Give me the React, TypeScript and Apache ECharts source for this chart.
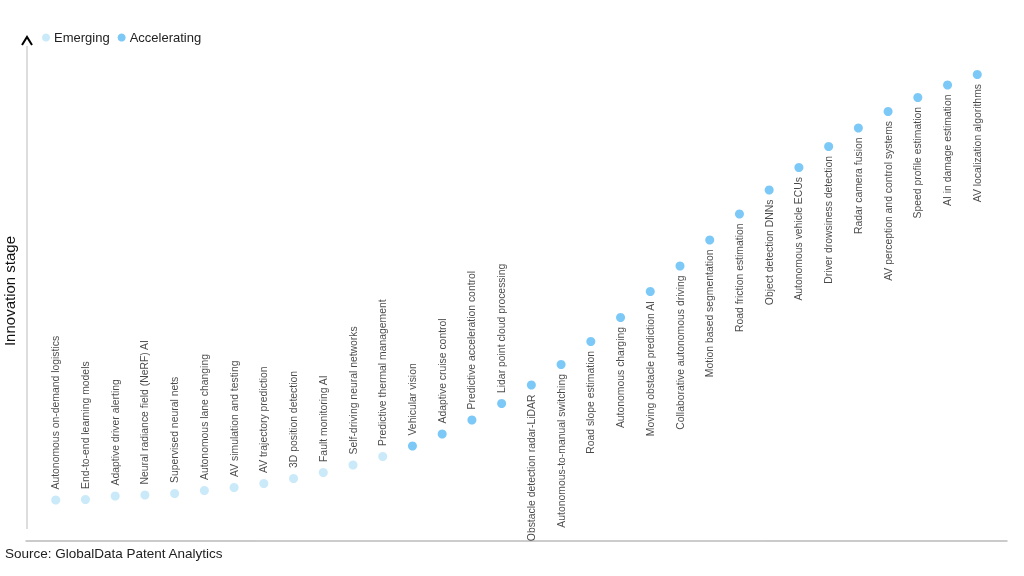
import React, { useEffect, useRef } from "react";
import * as echarts from "echarts";

const emergingNames = [
  "Autonomous on-demand logistics",
  "End-to-end learning models",
  "Adaptive driver alerting",
  "Neural radiance field (NeRF) AI",
  "Supervised neural nets",
  "Autonomous lane changing",
  "AV simulation and testing",
  "AV trajectory prediction",
  "3D position detection",
  "Fault monitoring AI",
  "Self-driving neural networks",
  "Predictive thermal management",
];
const emergingValues = [8.2, 8.3, 9.0, 9.2, 9.5, 10.1, 10.7, 11.5, 12.5, 13.7, 15.2, 16.9];

const acceleratingNames = [
  "Vehicular vision",
  "Adaptive cruise control",
  "Predictive acceleration control",
  "Lidar point cloud processing",
  "Obstacle detection radar-LiDAR",
  "Autonomous-to-manual switching",
  "Road slope estimation",
  "Autonomous charging",
  "Moving obstacle prediction AI",
  "Collaborative autonomous driving",
  "Motion based segmentation",
  "Road friction estimation",
  "Object detection DNNs",
  "Autonomous vehicle ECUs",
  "Driver drowsiness detection",
  "Radar camera fusion",
  "AV perception and control systems",
  "Speed profile estimation",
  "AI in damage estimation",
  "AV localization algorithms",
];
const acceleratingValues = [
  19.0, 21.4, 24.2, 27.5, 31.2, 35.3, 39.9, 44.7, 49.9, 55.0, 60.2, 65.4, 70.2, 74.7, 78.9, 82.6,
  85.9, 88.7, 91.2, 93.3,
];
// labels above the point for the first N items overall, below for the rest
const labelsAboveCount = 16;

const seriesNames = ["Emerging", "Accelerating"];
const seriesColors = ["#bde3f8", "#5bbcf5"];
const sourceText = "Source: GlobalData Patent Analytics";
const yAxisTitle = "Innovation stage";

const FONT = "'Liberation Sans', Arial, sans-serif";

function buildData(names: string[], values: number[], offset: number) {
  return names.map((n, i) => {
    const idx = offset + i;
    const above = idx < labelsAboveCount;
    return {
      value: [idx, values[i]],
      name: n,
      label: above
        ? { position: "top", align: "left", distance: 6 }
        : { position: "bottom", align: "right", distance: 5 },
    };
  });
}

export default function App() {
  const ref = useRef<HTMLDivElement>(null);
  useEffect(() => {
    if (!ref.current) return;
    const chart = echarts.init(ref.current, null, { renderer: "svg" });
    const labelBase = {
      show: true,
      rotate: 90,
      verticalAlign: "middle",
      formatter: (p: any) => p.name,
      fontSize: 10.4,
      color: "#1a1a1a",
      fontFamily: FONT,
    };
    chart.setOption({
      animation: false,
      textStyle: { fontFamily: FONT },
      legend: {
        left: 37,
        top: 26,
        icon: "circle",
        itemWidth: 8,
        itemHeight: 8,
        itemGap: 8,
        textStyle: { fontSize: 13, color: "#222", fontFamily: FONT, padding: [0, 0, 0, -1] },
        data: seriesNames,
      },
      grid: { left: 26, right: 17, top: 41, bottom: 35, outerBoundsMode: "none", containLabel: false },
      xAxis: {
        type: "value",
        min: -1,
        max: 32,
        axisLine: { show: true, lineStyle: { color: "#bbbbbb", width: 1.5 } },
        axisTick: { show: false },
        axisLabel: { show: false },
        splitLine: { show: false },
      },
      yAxis: {
        type: "value",
        min: 0,
        max: 100,
        name: yAxisTitle,
        nameLocation: "middle",
        nameGap: 9,
        nameTextStyle: { fontSize: 15, color: "#111", fontFamily: FONT },
        axisLine: { show: false },
        axisTick: { show: false },
        axisLabel: { show: false },
        splitLine: { show: false },
      },
      graphic: [
        {
          type: "line",
          shape: { x1: 27, y1: 46, x2: 27, y2: 529 },
          style: { stroke: "#bbbbbb", lineWidth: 1 },
        },
        {
          type: "polyline",
          shape: { points: [[22, 45], [27, 37], [32, 45]] },
          style: { stroke: "#000", lineWidth: 2, fill: null },
        },
        {
          type: "text",
          left: 5,
          top: 546,
          style: { text: sourceText, fontSize: 13.5, fill: "#222", fontFamily: FONT },
        },
      ],
      series: [
        {
          name: seriesNames[0],
          type: "scatter",
          symbolSize: 9,
          itemStyle: { color: seriesColors[0] },
          label: labelBase,
          data: buildData(emergingNames, emergingValues, 0),
        },
        {
          name: seriesNames[1],
          type: "scatter",
          symbolSize: 9,
          itemStyle: { color: seriesColors[1] },
          label: labelBase,
          data: buildData(acceleratingNames, acceleratingValues, emergingNames.length),
        },
      ],
    });
    return () => chart.dispose();
  }, []);
  return (
    <div
      ref={ref}
      style={{ position: "fixed", left: 0, top: 0, width: 1024, height: 576 }}
    />
  );
}
